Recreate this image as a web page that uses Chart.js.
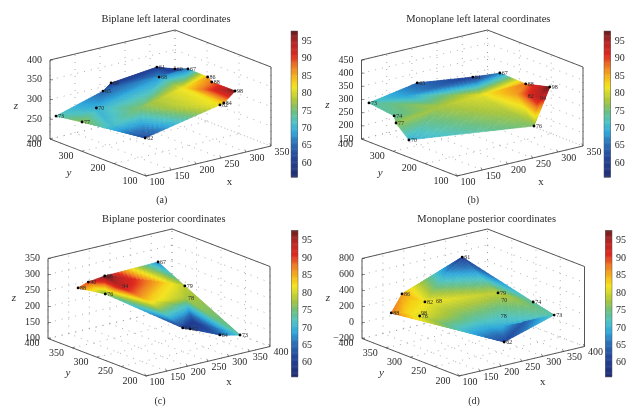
<!DOCTYPE html>
<html>
<head>
<meta charset="utf-8">
<script src="https://cdn.jsdelivr.net/npm/chart.js@4"></script>
<style>
  html, body { margin: 0; background: #fff; overflow: hidden; }
  canvas { position: absolute; }
</style>
</head>
<body>
<canvas id="chartA" width="320" height="206" style="left:0;top:0"></canvas>
<canvas id="chartB" width="321" height="206" style="left:320px;top:0"></canvas>
<canvas id="chartC" width="320" height="206" style="left:0;top:205px"></canvas>
<canvas id="chartD" width="321" height="206" style="left:320px;top:205px"></canvas>
<script>
// colour bar
const cbStops = [56, 58, 62, 66, 69, 72, 75, 78, 82, 84, 88, 91, 95, 98];
const cbColors = ["#1d2a6e", "#21357f", "#24479c", "#2a72b8", "#2fa8dc", "#4ec3c5", "#6cbf7f", "#a8c53c",
  "#f2e41f", "#f6c519", "#ee7a22", "#e0281f", "#b52525", "#6b1d1d"];
const cbTicks = [60, 65, 70, 75, 80, 85, 90, 95];

// (a) biplane left lateral. blank label = surface vertex only
const aX = [285, 301, 317, 281, 341, 330, 330, 303, 292, 203, 167, 130, 105, 118, 170, 288, 196, 142];
const aY = [355, 324, 308, 342, 284, 254, 181, 174, 169, 370, 339, 302, 389, 328, 212, 278, 269, 272];
const aZ = [340, 340, 340, 320, 320, 320, 320, 300, 300, 320, 320, 300, 260, 260, 240, 310, 290, 260];
const aV = [61, 60, 67, 68, 86, 88, 98, 84, 82, 60, 65, 70, 73, 77, 62, 82, 76, 71];
const aLabels = ["61", "60", "67", "68", "86", "88", "98", "84", "82", "60", "65", "70", "73", "77", "62", "", "", ""];
const aNoDot = [];
const aMesh = [[9, 0, 3], [0, 1, 3], [1, 2, 3], [3, 2, 15], [2, 4, 15], [4, 5, 15], [5, 6, 15], [6, 7, 15], [7, 8, 15],
  [10, 9, 3], [10, 3, 11], [3, 15, 16], [3, 16, 11], [15, 8, 16], [16, 8, 14], [11, 16, 17], [17, 16, 14],
  [12, 10, 11], [12, 11, 13], [13, 11, 17], [13, 17, 14]];

// (b) monoplane left lateral
const bX = [196, 283, 329, 326, 346, 313, 322, 278, 105, 118, 113, 106, 247, 188, 154, 295];
const bY = [377, 340, 328, 242, 198, 221, 197, 140, 259, 320, 318, 386, 261, 293, 343, 223];
const bZ = [330, 330, 330, 330, 330, 300, 300, 240, 210, 240, 270, 291, 315, 285, 315, 315];
const bV = [65, 61, 67, 88, 98, 82, 94, 76, 70, 77, 74, 73, 81, 78, 69, 86];
const bLabels = ["65", "61", "67", "88", "98", "82", "94", "76", "70", "77", "74", "73", "", "", "", ""];
const bNoDot = [5, 6];
const bMesh = [[0, 1, 14], [1, 2, 12], [1, 12, 14], [2, 3, 12], [3, 4, 15], [4, 6, 15], [4, 7, 6], [6, 7, 15], [3, 15, 12],
  [15, 7, 12], [12, 7, 13], [13, 7, 8], [14, 12, 13], [0, 14, 11], [11, 14, 13], [11, 13, 10], [10, 13, 9], [9, 13, 8]];

// (c) biplane posterior
const cX = [313, 322, 308, 369, 339, 318, 311, 155, 162, 210, 225, 203, 307, 243, 323, 318];
const cY = [355, 308, 294, 235, 251, 294, 303, 385, 370, 377, 358, 370, 332, 317, 302, 288];
const cZ = [300, 250, 225, 125, 125, 125, 125, 250, 275, 275, 250, 225, 250, 225, 188, 150];
const cV = [67, 79, 78, 73, 64, 62, 61, 88, 90, 98, 94, 76, 83, 84, 71, 60];
const cLabels = ["67", "79", "78", "73", "64", "62", "61", "88", "90", "98", "94", "76", "", "", "", ""];
const cNoDot = [2, 10];
const cMesh = [[9, 0, 12], [9, 12, 10], [10, 12, 13], [0, 1, 12], [12, 1, 2], [12, 2, 13], [13, 2, 14], [13, 14, 6],
  [13, 6, 11], [10, 13, 11], [9, 10, 11], [8, 9, 11], [7, 8, 11], [2, 1, 3], [2, 3, 14], [14, 3, 15], [15, 3, 4],
  [15, 4, 5], [14, 15, 6], [15, 5, 6]];

// (d) monoplane posterior
const dX = [270, 293, 298, 341, 368, 282, 267, 177, 211, 228, 134, 192, 180, 187, 167, 267, 341, 300, 267];
const dY = [340, 286, 288, 255, 235, 275, 251, 384, 366, 362, 369, 362, 350, 370, 365, 369, 276, 282, 315];
const dZ = [750, 400, 300, 300, 150, 150, -100, 300, 200, 200, 150, 100, 100, 220, 120, 500, 0, 0, 50];
const dV = [61, 79, 70, 74, 73, 78, 62, 86, 82, 68, 88, 98, 76, 83, 83, 68, 64, 70, 74];
const dLabels = ["61", "79", "70", "74", "73", "78", "62", "86", "82", "68", "88", "98", "76", "", "", "", "", "", ""];
const dNoDot = [2, 5, 9, 11];
const dMesh = [[0, 3, 1], [3, 4, 1], [0, 1, 15], [15, 1, 8], [0, 15, 7], [7, 15, 8], [7, 8, 13], [7, 13, 14], [7, 14, 10],
  [13, 8, 14], [14, 8, 18], [14, 18, 6], [10, 14, 6], [8, 1, 18], [1, 4, 17], [1, 17, 18], [18, 17, 6], [17, 16, 6],
  [17, 4, 16], [16, 4, 6]];

// axis ticks
const aXTicks = [100, 150, 200, 250, 300, 350], aYTicks = [100, 200, 300, 400], aZTicks = [200, 250, 300, 350, 400];
const bXTicks = [100, 150, 200, 250, 300, 350], bYTicks = [100, 200, 300, 400], bZTicks = [150, 200, 250, 300, 350, 400, 450];
const cXTicks = [100, 150, 200, 250, 300, 350, 400], cYTicks = [200, 250, 300, 350, 400], cZTicks = [100, 150, 200, 250, 300, 350];
const dXTicks = [100, 150, 200, 250, 300, 350, 400], dYTicks = [200, 250, 300, 350, 400], dZTicks = [-200, 0, 200, 400, 600, 800];

const SERIF = "'Liberation Serif', serif";

function hexRgb(h) {
  return [1, 3, 5].map(i => parseInt(h.substr(i, 2), 16));
}
const cbRgb = cbColors.map(hexRgb);

function colorOf(v) {
  let i = 0;
  while (i < cbStops.length - 2 && v > cbStops[i + 1]) i++;
  const t = Math.min(1, Math.max(0, (v - cbStops[i]) / (cbStops[i + 1] - cbStops[i])));
  const c = cbRgb[i].map((a, k) => Math.round(a + (cbRgb[i + 1][k] - a) * t));
  return "rgb(" + c.join(",") + ")";
}

// one panel of the page. box = where the 3d box sits: front corner and edge vectors
function makePanel(cfg) {
  const xr = [cfg.xTicks[0], cfg.xTicks[cfg.xTicks.length - 1]];
  const yr = [cfg.yTicks[0], cfg.yTicks[cfg.yTicks.length - 1]];
  const zr = [cfg.zTicks[0], cfg.zTicks[cfg.zTicks.length - 1]];

  const project = (x, y, z) => {
    const X = (x - xr[0]) / (xr[1] - xr[0]);
    const Y = (y - yr[0]) / (yr[1] - yr[0]);
    const Z = (z - zr[0]) / (zr[1] - zr[0]);
    return {
      x: cfg.box.o[0] + cfg.box.ex[0] * X + cfg.box.ey[0] * Y,
      y: cfg.box.o[1] + cfg.box.ex[1] * X + cfg.box.ey[1] * Y + cfg.box.ez * Z,
    };
  };

  const points = cfg.xs.map((x, i) => project(x, cfg.ys[i], cfg.zs[i]));

  const surface = {
    id: "surface",
    beforeDatasetsDraw(chart) {
      const { ctx, scales } = chart;
      const sx = p => scales.x.getPixelForValue(p.x);
      const sy = p => scales.y.getPixelForValue(p.y);
      const line = (a, b) => {
        ctx.beginPath();
        ctx.moveTo(sx(a), sy(a));
        ctx.lineTo(sx(b), sy(b));
        ctx.stroke();
      };

      // dotted grid on the floor and the two back walls
      ctx.save();
      ctx.strokeStyle = "#999";
      ctx.lineWidth = 0.8;
      ctx.setLineDash([1, 6]);
      cfg.xTicks.forEach(t => {
        line(project(t, yr[0], zr[0]), project(t, yr[1], zr[0]));
        line(project(t, yr[1], zr[0]), project(t, yr[1], zr[1]));
      });
      cfg.yTicks.forEach(t => {
        line(project(xr[0], t, zr[0]), project(xr[1], t, zr[0]));
        line(project(xr[1], t, zr[0]), project(xr[1], t, zr[1]));
      });
      cfg.zTicks.forEach(t => {
        line(project(xr[0], yr[1], t), project(xr[1], yr[1], t));
        line(project(xr[1], yr[1], t), project(xr[1], yr[0], t));
      });
      ctx.setLineDash([]);

      // box outline and tick marks
      ctx.strokeStyle = "#444";
      ctx.lineWidth = 0.9;
      const outline = [[xr[0], yr[1], zr[1]], [xr[1], yr[1], zr[1]], [xr[1], yr[0], zr[1]], [xr[1], yr[0], zr[0]],
        [xr[0], yr[0], zr[0]], [xr[0], yr[1], zr[0]], [xr[0], yr[1], zr[1]]];
      for (let i = 0; i < outline.length - 1; i++) {
        line(project(...outline[i]), project(...outline[i + 1]));
      }
      ctx.lineWidth = 0.6;
      cfg.zTicks.forEach(t => {
        const p = project(xr[0], yr[1], t);
        line(p, { x: p.x + 3, y: p.y });
      });
      cfg.xTicks.forEach(t => {
        const p = project(t, yr[0], zr[0]);
        line(p, { x: p.x - 1.3, y: p.y - 2.5 });
      });
      cfg.yTicks.forEach(t => {
        const p = project(xr[0], t, zr[0]);
        line(p, { x: p.x + 2.5, y: p.y - 1 });
      });

      // surface, each triangle cut into small flat pieces
      const n = 16;
      cfg.mesh.forEach(tri => {
        const [A, B, C] = tri.map(i => ({ x: sx(points[i]), y: sy(points[i]), v: cfg.vs[i] }));
        const at = (i, j) => {
          const a = i / n, b = j / n, c = 1 - a - b;
          return { x: A.x * a + B.x * b + C.x * c, y: A.y * a + B.y * b + C.y * c };
        };
        const piece = (p, q, r, a, b) => {
          const col = colorOf(A.v * a + B.v * b + C.v * (1 - a - b));
          ctx.fillStyle = col;
          ctx.strokeStyle = col;
          ctx.lineWidth = 0.5;
          ctx.beginPath();
          ctx.moveTo(p.x, p.y);
          ctx.lineTo(q.x, q.y);
          ctx.lineTo(r.x, r.y);
          ctx.closePath();
          ctx.fill();
          ctx.stroke();
        };
        for (let i = 0; i < n; i++) {
          for (let j = 0; j < n - i; j++) {
            piece(at(i, j), at(i + 1, j), at(i, j + 1), (i + 1 / 3) / n, (j + 1 / 3) / n);
            if (j < n - i - 1) {
              piece(at(i + 1, j), at(i + 1, j + 1), at(i, j + 1), (i + 2 / 3) / n, (j + 2 / 3) / n);
            }
          }
        }
      });

      // colour bar
      const cb = scales.cb;
      const right = chart.chartArea.right;
      for (let v = 56; v < 98; v += 0.25) {
        const top = cb.getPixelForValue(v + 0.25);
        ctx.fillStyle = colorOf(v + 0.125);
        ctx.fillRect(right - 6.7, top, 6.7, cb.getPixelForValue(v) - top + 0.5);
      }
      ctx.strokeStyle = "#555";
      ctx.lineWidth = 0.5;
      ctx.strokeRect(right - 6.7, cb.top, 6.7, cb.bottom - cb.top);
      ctx.restore();
    },
    afterDatasetsDraw(chart) {
      const { ctx, scales } = chart;
      const sx = p => scales.x.getPixelForValue(p.x);
      const sy = p => scales.y.getPixelForValue(p.y);
      const text = (s, p, dx, dy, align, font) => {
        ctx.font = font;
        ctx.textAlign = align;
        ctx.fillText(s, sx(p) + dx, sy(p) + dy);
      };
      ctx.save();
      ctx.textBaseline = "middle";
      ctx.fillStyle = "#2a2a2a";

      // value labels next to the points
      cfg.labels.forEach((s, i) => {
        if (s) text(s, points[i], 2, 0.5, "left", "6px " + SERIF);
      });

      // 3d axis tick labels and names
      const tickFont = "10px " + SERIF;
      cfg.zTicks.forEach(t => text(t < 0 ? "\u2212" + -t : String(t), project(xr[0], yr[1], t), -8, 0, "right", tickFont));
      cfg.xTicks.forEach(t => text(String(t), project(t, yr[0], zr[0]), 11, 6, "center", tickFont));
      cfg.yTicks.forEach(t => text(String(t), project(xr[0], t, zr[0]), -16, 5, "center", tickFont));
      const mid = (a, b) => (a + b) / 2;
      text("x", project(mid(xr[0], xr[1]), yr[0], zr[0]), 21, 21, "center", "11px " + SERIF);
      text("y", project(xr[0], mid(yr[0], yr[1]), zr[0]), -29, 16, "center", "italic 11px " + SERIF);
      text("z", project(xr[0], yr[1], mid(zr[0], zr[1])), -34, cfg.zNameDy, "center", "italic 11px " + SERIF);
      ctx.restore();
    },
  };

  return new Chart(document.getElementById(cfg.id), {
    type: "scatter",
    data: {
      datasets: [{
        data: points,
        clip: false,
        pointBackgroundColor: "#000",
        pointBorderWidth: 0,
        pointRadius: c => (cfg.labels[c.dataIndex] && !cfg.noDot.includes(c.dataIndex) ? 1.4 : 0),
      }],
    },
    options: {
      responsive: false,
      animation: false,
      layout: { padding: { left: cfg.padLeft, right: cfg.padRight, top: 0, bottom: 0 } },
      plugins: {
        legend: { display: false },
        tooltip: { enabled: false },
        title: {
          display: true,
          text: cfg.title,
          color: "#2a2a2a",
          font: { family: SERIF, size: 10.5, weight: "normal", lineHeight: 1.2 },
          padding: { top: cfg.titleTop, bottom: cfg.titleBottom },
        },
      },
      scales: {
        x: {
          type: "linear",
          min: cfg.areaLeft,
          max: cfg.areaRight,
          grid: { display: false },
          border: { display: false },
          ticks: { display: false },
          afterFit: s => { s.height = cfg.xAxisH; },
          title: {
            display: true,
            text: cfg.panel,
            color: "#2a2a2a",
            font: { family: SERIF, size: 10, lineHeight: 1.2 },
            padding: { top: 0, bottom: cfg.panelBottom },
          },
        },
        y: { type: "linear", display: false, reverse: true, min: cfg.areaTop, max: cfg.areaBottom },
        cb: {
          type: "linear",
          position: "right",
          min: cbStops[0],
          max: cbStops[cbStops.length - 1],
          grid: { display: false, drawTicks: false },
          border: { display: false },
          // mirror keeps the labels from being clipped to the narrow axis box
          ticks: { mirror: true, padding: 14, color: "#2a2a2a", font: { family: SERIF, size: 10 } },
          afterBuildTicks: s => { s.ticks = cbTicks.map(v => ({ value: v })); },
          afterFit: s => { s.width = cfg.cbW; },
        },
      },
    },
    plugins: [surface],
  });
}

makePanel({
  id: "chartA", title: "Biplane left lateral coordinates", panel: "(a)",
  xs: aX, ys: aY, zs: aZ, vs: aV, labels: aLabels, noDot: aNoDot, mesh: aMesh,
  xTicks: aXTicks, yTicks: aYTicks, zTicks: aZTicks,
  box: { o: [146, 176], ex: [125, -30], ey: [-96, -37], ez: -79 },
  areaLeft: 25.7, areaRight: 297.7, areaTop: 31, areaBottom: 177,
  padLeft: 25.7, padRight: 13.7, cbW: 8.6, titleTop: 13, titleBottom: 5.4, xAxisH: 29, panelBottom: 0, zNameDy: 7,
});

makePanel({
  id: "chartB", title: "Monoplane left lateral coordinates", panel: "(b)",
  xs: bX, ys: bY, zs: bZ, vs: bV, labels: bLabels, noDot: bNoDot, mesh: bMesh,
  xTicks: bXTicks, yTicks: bYTicks, zTicks: bZTicks,
  box: { o: [457, 176], ex: [126, -30], ey: [-95.5, -37], ez: -79 },
  areaLeft: 335.9, areaRight: 610.7, areaTop: 31, areaBottom: 177,
  padLeft: 15.9, padRight: 20.3, cbW: 10, titleTop: 13, titleBottom: 5.4, xAxisH: 29, panelBottom: 0, zNameDy: 6,
});

makePanel({
  id: "chartC", title: "Biplane posterior coordinates", panel: "(c)",
  xs: cX, ys: cY, zs: cZ, vs: cV, labels: cLabels, noDot: cNoDot, mesh: cMesh,
  xTicks: cXTicks, yTicks: cYTicks, zTicks: cZTicks,
  box: { o: [146, 376], ex: [124, -29.5], ey: [-98, -37.5], ez: -80 },
  areaLeft: 22, areaRight: 298, areaTop: 230.3, areaBottom: 376.7,
  padLeft: 22, padRight: 14.4, cbW: 7.6, titleTop: 8, titleBottom: 4.7, xAxisH: 34.3, panelBottom: 4, zNameDy: 0,
});

makePanel({
  id: "chartD", title: "Monoplane posterior coordinates", panel: "(d)",
  xs: dX, ys: dY, zs: dZ, vs: dV, labels: dLabels, noDot: dNoDot, mesh: dMesh,
  xTicks: dXTicks, yTicks: dYTicks, zTicks: dZTicks,
  box: { o: [459, 376], ex: [125.5, -29.5], ey: [-97, -37.5], ez: -80 },
  areaLeft: 336, areaRight: 612, areaTop: 230.3, areaBottom: 376.7,
  padLeft: 16, padRight: 3.6, cbW: 25.4, titleTop: 8, titleBottom: 4.7, xAxisH: 34.3, panelBottom: 4, zNameDy: 0,
});
</script>
</body>
</html>
